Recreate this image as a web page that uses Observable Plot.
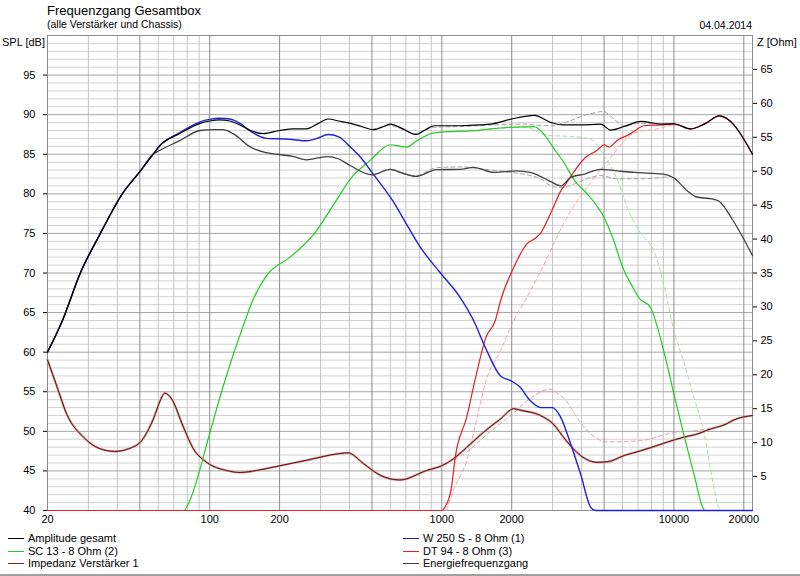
<!DOCTYPE html>
<html><head><meta charset="utf-8">
<script src="https://cdn.jsdelivr.net/npm/d3@7"></script>
<script src="https://cdn.jsdelivr.net/npm/@observablehq/plot@0.6"></script>
<style>
body{margin:0;background:#fff;font-family:"Liberation Sans",Arial,sans-serif;}
#wrap{position:relative;width:800px;height:576px;overflow:hidden;background:#fff;}
.t{position:absolute;white-space:nowrap;color:#000;line-height:1;}
.lg{position:absolute;font-size:11px;white-space:nowrap;line-height:12px;}
.sw{display:inline-block;width:16px;height:0;border-top:1px solid #000;vertical-align:middle;margin-right:4px;position:relative;top:-1px;}
#chart{position:absolute;left:0;top:0;}
</style></head><body>
<div id="wrap">
  <div id="chart"></div>
  <div class="t" style="left:47px;top:4px;font-size:13px">Frequenzgang Gesamtbox</div>
  <div class="t" style="left:47px;top:19px;font-size:10.5px">(alle Verstärker und Chassis)</div>
  <div class="t" style="right:48px;top:20px;font-size:10.5px">04.04.2014</div>
  <div class="t" style="left:2px;top:37px;font-size:11px">SPL [dB]</div>
  <div class="t" style="left:757px;top:37px;font-size:11px">Z [Ohm]</div>
  <div id="legend"></div>
  <div style="position:absolute;left:0;top:574px;width:800px;height:2px;background:#a0a0a0"></div>
</div>
<script>
// ---- tick / grid values ----
const freqTicks = [20,50,100,200,500,1000,2000,5000,10000,20000];
const minorFreqs = [30,40,60,70,80,90,300,400,600,700,800,900,3000,4000,6000,7000,8000,9000];
const splTicks = [40,45,50,55,60,65,70,75,80,85,90,95];
const zTicks = [5,10,15,20,25,30,35,40,45,50,55,60,65];

// ---- Amplitude gesamt (black) ----
const ampF  = [20,23.2,27.7,33.8,42,50,57,61,74,91,100,110,122,135,150,170,200,230,261,290,324,360,404,450,508,550,600,680,770,850,926,1200,1470,1620,2000,2500,2960,3300,3930,4830,5340,6100,7200,8800,10000,11800,13500,15700,17000,21800];
const ampDb = [60,64,70,75,80,82.8,85,86.1,87.6,88.9,89.2,89.35,89.2,88.7,88.0,87.6,88.0,88.2,88.2,88.8,89.45,89.2,88.9,88.5,88.1,88.4,88.8,88.2,87.5,88.1,88.6,88.6,88.7,88.8,89.45,89.9,89.0,88.7,88.7,88.8,88.05,88.5,89.15,88.8,88.85,88.2,88.8,89.85,89.45,85.0];

// ---- W 250 S - 8 Ohm (1) (blue) ----
const wooF  = [20,23.2,27.7,33.8,42,50,57,61,74,91,100,110,122,135,150,176,220,261,290,324,360,404,450,500,615,700,810,980,1200,1370,1550,1790,1980,2170,2400,2660,2990,3250,3590,3960,4380,4600,21800];
const wooDb = [60,64,70,75,80,82.8,85,86.1,87.7,89.1,89.4,89.55,89.45,88.9,87.9,87.0,86.9,86.7,87.0,87.5,87.2,85.9,84.5,82.7,79.1,76.3,73.2,70.1,66.9,64,60.4,57.0,56.4,55.6,53.9,53.0,53.0,51.8,48.4,44.6,40.4,40,40];

// ---- SC 13 - 8 Ohm (2) (green) ----
const midF  = [20,77.5,81,100.8,114,142,153,176,222,281,343,404,490,600,705,780,926,1470,1620,2500,2740,3010,3380,3730,4230,5000,5500,6000,6650,7100,7900,9100,10000,11000,12200,13300,13600,21800];
const midDb = [40,40,40.9,50.1,55.6,64,66.5,69.7,72.0,74.9,78.7,81.9,84.2,86.2,85.9,86.7,87.7,88.05,88.2,88.5,87.6,85.9,83.8,81.7,80.0,77.0,74.1,70.8,68.2,66.8,65.7,59.8,54.7,49.7,44.6,40.4,40,40];

// ---- DT 94 - 8 Ohm (3) (red) ----
const twF  = [20,1000,1030,1100,1142,1280,1410,1550,1700,1790,2040,2330,2500,2660,2960,3260,3430,3730,4120,4670,5000,5260,5720,6320,6750,7400,8800,10000,11800,13500,15700,17000,21800];
const twDb = [40,40,40.4,42.9,46.7,51.8,57.3,61.9,64,66.5,70.7,73.7,74.3,75.0,77.7,80.4,81.3,82.9,84.5,85.5,86.2,85.9,86.8,87.4,87.9,88.6,88.7,88.8,88.2,88.8,89.85,89.45,85.0];

// ---- Energiefrequenzgang (dark grey) ----
const enF  = [20,23.2,27.7,33.8,42,50,57,61,74,91,104,114,126,150,175,195,230,261,319,360,404,500,600,680,770,950,1200,1370,1680,2100,2400,2660,2960,3260,3600,4120,4830,5700,6800,9000,10000,11400,12500,14600,15600,18000,21800];
const enDb = [60,64,70,75,80,82.8,85,85.5,86.7,88.0,88.1,88.1,87.6,85.9,85.2,85.0,84.7,84.3,84.7,84.4,83.55,82.4,83.1,82.6,82.2,83.05,83.1,83.35,82.7,82.9,82.7,82.2,81.5,81.0,82.1,82.5,83.1,82.9,82.7,82.5,82.0,80.4,79.6,79.35,79.1,76.6,72.2];

// ---- earlier variants (dashed) ----
const ampOldF  = [500,600,770,926,1200,1620,2330,2500,2960,3380,4120,5000,5340,6100,7200,10000];
const ampOldDb = [88.1,88.6,87.6,88.4,88.5,88.7,88.8,88.7,88.6,89.0,89.9,90.4,89.8,88.6,88.9,88.8];
const enOldF  = [600,770,950,1200,1620,2000,2660,2960,3260,3720,4230,4830,5680,7200,9100,9700];
const enOldDb = [83.1,82.3,83.3,83.4,83.0,82.7,81.9,81.0,80.8,81.25,81.9,82.3,81.9,81.9,82.1,82.2];
const midOldF  = [1470,2330,2600,2820,3800,4380,5000,5680,6450,7200,8300,9100,10000,11000,12200,13500,14500,15600,15900];
const midOldDb = [88.05,88.4,87.8,87.4,87.2,86.9,84.8,81.9,77.5,75.0,72.4,68.2,62.7,58.9,54.3,49.7,44.6,40.4,40];
const twOldF  = [1050,1120,1280,1410,1550,1790,2040,2330,2800,3100,3600,4120,4670,5340,6100,6900,8500,10000,11800];
const twOldDb = [40,42.5,46.3,51.4,56.4,60.2,64,67,71.5,74.3,77.9,80.4,82.5,84.6,86.7,87.8,88.2,88.7,88.2];

// ---- Impedanz Verstärker 1 (Ohm, right axis) ----
const impF   = [20,22,24.2,28.6,33.7,39,44.7,50.9,57.5,61.2,64,68.4,77,85,97,118,135,159,201,261,364,395,460,542,660,860,1000,1120,1280,1510,1790,2040,2170,2660,3010,3430,3960,4670,5200,6100,7200,8500,9400,11000,12700,13800,16900,18000,21800];
const impOhm = [22.2,18.2,14.2,10.8,9.1,8.7,9.1,10.3,13.7,16.2,17.3,16.5,12.3,9.1,7.1,5.9,5.6,5.9,6.6,7.4,8.4,8.5,6.9,5.2,4.5,5.9,6.6,7.6,9.3,11.5,13.5,15.0,14.8,14.0,12.8,10.3,8.1,7.1,7.2,8.1,8.8,9.6,10.1,10.8,11.3,11.8,12.8,13.3,14.0];
const impOldF   = [1000,1280,1550,1980,2500,2900,3250,3430,3800,4380,5170,7200,10000,12700,15000];
const impOldOhm = [6.6,8.6,11.1,14.0,16.9,17.9,16.9,16.2,13.8,11.3,10.1,10.3,11.5,11.8,12.3];

// SPL 40..100 dB  <->  Z 0..70 Ohm
const zToDb = z => 40 + z * 60 / 70;
const dbToZ = d => Math.round((d - 40) * 70 / 60);

const zip = (fs, vs, conv = v => v) => fs.map((f, i) => ({f, v: conv(vs[i])}));

const series = [
  {name: "Amplitude gesamt", color: "#000000"},
  {name: "W 250 S - 8 Ohm  (1)", color: "#2020e0"},
  {name: "SC 13 - 8 Ohm (2)", color: "#22cc22"},
  {name: "DT 94 - 8 Ohm (3)", color: "#e41e26"},
  {name: "Impedanz Verstärker 1", color: "#8b2020"},
  {name: "Energiefrequenzgang", color: "#404040"}
];

const line = (data, stroke, opts = {}) =>
  Plot.line(data, {x: "f", y: "v", stroke, strokeWidth: 1, curve: "monotone-x", ...opts});
const dash = {strokeDasharray: "4,3", strokeWidth: 1};

const chart = Plot.plot({
  width: 800,
  height: 530,
  marginLeft: 47,
  marginRight: 48,
  marginTop: 35,
  marginBottom: 20,
  style: {fontFamily: "Liberation Sans, Arial, sans-serif", fontSize: "11px", color: "#000", background: "transparent"},
  x: {type: "log", domain: [20, 21800]},
  y: {domain: [40, 100]},
  marks: [
    Plot.ruleY(d3.range(41, 100).filter(d => d % 5 !== 0), {stroke: "#d2d2d2"}),
    Plot.ruleX(minorFreqs, {stroke: "#c4c4c4"}),
    Plot.ruleY(splTicks.slice(1), {stroke: "#a4a4a4"}),
    Plot.ruleX(freqTicks, {stroke: "#8c8c8c"}),
    Plot.frame({stroke: "#8c8c8c"}),
    Plot.axisX(freqTicks, {tickSize: 0, tickPadding: 5, tickFormat: d => String(d), label: null}),
    Plot.axisY(splTicks, {anchor: "left", tickSize: 4, tickPadding: 8, tickFormat: d => String(d), label: null}),
    Plot.axisY(zTicks.map(zToDb), {anchor: "right", tickSize: 4, tickPadding: 4, tickFormat: dbToZ, label: null}),
    // older variants (dashed)
    line(zip(impOldF, impOldOhm, zToDb), "#d4a8a8", dash),
    line(zip(twOldF, twOldDb), "#f2a4a4", dash),
    line(zip(midOldF, midOldDb), "#a8dca8", dash),
    line(zip(enOldF, enOldDb), "#a0a0a0", dash),
    line(zip(ampOldF, ampOldDb), "#a0a0a0", dash),
    // impedance
    line(zip(impF, impOhm, zToDb), "#c89a9a", {strokeWidth: 2.2}),
    line(zip(impF, impOhm, zToDb), "#6e0a0a", {strokeWidth: 1}),
    // drivers
    line(zip(midF, midDb), series[2].color, {strokeWidth: 1.2}),
    line(zip(twF, twDb), series[3].color, {strokeWidth: 1.2}),
    line(zip(wooF, wooDb), series[1].color, {strokeWidth: 1.4}),
    line(zip(enF, enDb), series[5].color, {strokeWidth: 1.3}),
    line(zip(ampF, ampDb), series[0].color, {strokeWidth: 1.2})
  ]
});
document.getElementById("chart").appendChild(chart);

// legend (two columns, three rows)
const legendPos = [
  [8, 532], [403, 532],
  [8, 545], [403, 545],
  [8, 557], [403, 557]
];
const legendOrder = [0, 1, 2, 3, 4, 5];
const lg = document.getElementById("legend");
legendOrder.forEach((si, k) => {
  const s = series[si];
  const d = document.createElement("div");
  d.className = "lg";
  d.style.left = legendPos[k][0] + "px";
  d.style.top = legendPos[k][1] + "px";
  d.innerHTML = `<span class="sw" style="border-top-color:${s.color}"></span>${s.name}`;
  lg.appendChild(d);
});
</script>
</body></html>
